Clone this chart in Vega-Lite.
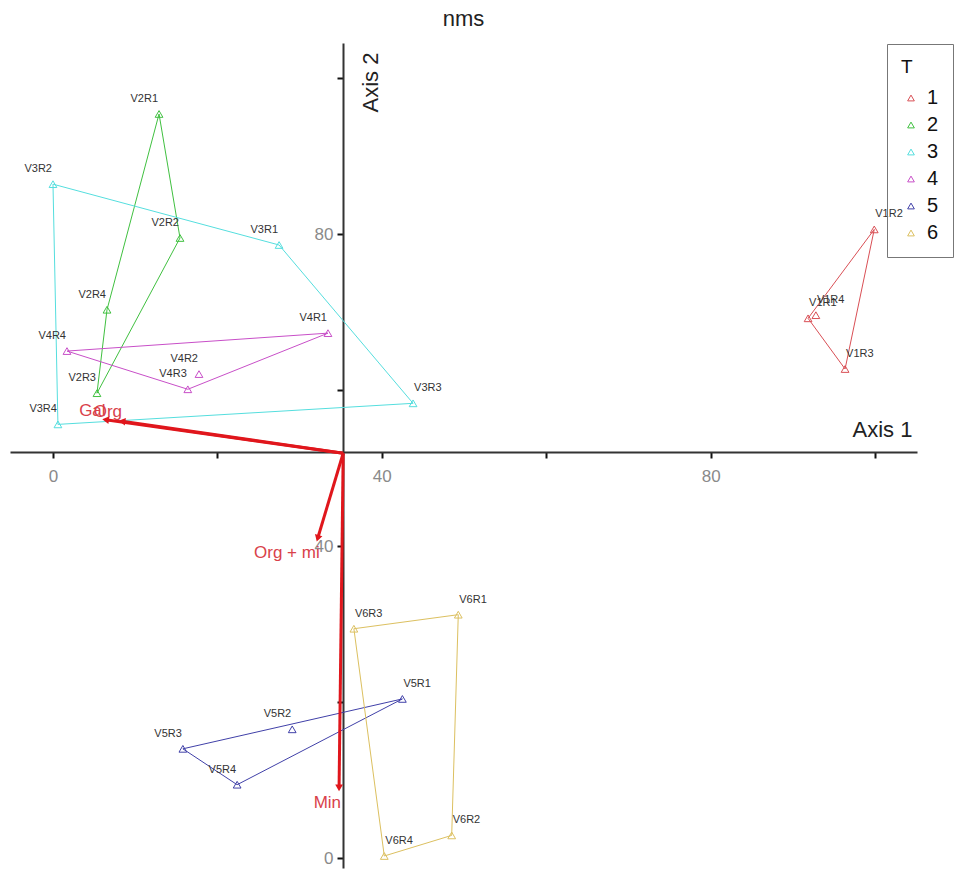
{
  "$schema": "https://vega.github.io/schema/vega-lite/v6.json",
  "width": 907,
  "height": 825,
  "autosize": {"type": "none"},
  "padding": {"left": 10, "top": 43, "right": 53, "bottom": 2},
  "background": "white",
  "title": {"text": "nms", "fontSize": 22, "fontWeight": "normal", "color": "#222222", "font": "Liberation Sans", "offset": 12, "anchor": "middle"},
  "config": {"view": {"stroke": null}, "font": "Liberation Sans", "axis": {"grid": false}},
  "datasets": {
    "pts": [
      {"id": "V1R1", "T": "1", "x": 91.85, "y": 69.2, "hull": 2},
      {"id": "V1R2", "T": "1", "x": 99.9, "y": 80.6, "hull": 0},
      {"id": "V1R3", "T": "1", "x": 96.35, "y": 62.7, "hull": 1},
      {"id": "V1R4", "T": "1", "x": 92.8, "y": 69.6, "hull": null},
      {"id": "V2R1", "T": "2", "x": 12.9, "y": 95.4, "hull": 0},
      {"id": "V2R2", "T": "2", "x": 15.45, "y": 79.5, "hull": 1},
      {"id": "V2R3", "T": "2", "x": 5.35, "y": 59.6, "hull": 2},
      {"id": "V2R4", "T": "2", "x": 6.57, "y": 70.3, "hull": 3},
      {"id": "V3R1", "T": "3", "x": 27.5, "y": 78.6, "hull": 1},
      {"id": "V3R2", "T": "3", "x": 0.0, "y": 86.4, "hull": 0},
      {"id": "V3R3", "T": "3", "x": 43.8, "y": 58.3, "hull": 2},
      {"id": "V3R4", "T": "3", "x": 0.6, "y": 55.6, "hull": 3},
      {"id": "V4R1", "T": "4", "x": 33.45, "y": 67.3, "hull": 0},
      {"id": "V4R2", "T": "4", "x": 17.76, "y": 62.05, "hull": null},
      {"id": "V4R3", "T": "4", "x": 16.4, "y": 60.1, "hull": 1},
      {"id": "V4R4", "T": "4", "x": 1.7, "y": 65.0, "hull": 2},
      {"id": "V5R1", "T": "5", "x": 42.5, "y": 20.4, "hull": 0},
      {"id": "V5R2", "T": "5", "x": 29.1, "y": 16.5, "hull": null},
      {"id": "V5R3", "T": "5", "x": 15.8, "y": 14.0, "hull": 2},
      {"id": "V5R4", "T": "5", "x": 22.4, "y": 9.4, "hull": 1},
      {"id": "V6R1", "T": "6", "x": 49.3, "y": 31.2, "hull": 1},
      {"id": "V6R2", "T": "6", "x": 48.5, "y": 2.9, "hull": 2},
      {"id": "V6R3", "T": "6", "x": 36.6, "y": 29.4, "hull": 0},
      {"id": "V6R4", "T": "6", "x": 40.3, "y": 0.26, "hull": 3}
    ],
    "vec": [
      {"name": "Gal", "x0": 35.3, "y0": 51.9, "x": 6.4, "y": 56.2, "side": "up"},
      {"name": "Org", "x0": 35.3, "y0": 51.9, "x": 8.4, "y": 56.0, "side": "up"},
      {"name": "Org + mi", "x0": 35.3, "y0": 51.9, "x": 32.2, "y": 41.0, "side": "down"},
      {"name": "Min", "x0": 35.3, "y0": 51.9, "x": 34.8, "y": 9.0, "side": "down"}
    ]
  },
  "encoding": {
    "x": {
      "field": "x", "type": "quantitative",
      "scale": {"domain": [-5.23, 105.1], "nice": false, "zero": false},
      "axis": {
        "offset": -416, "values": [0, 20, 40, 60, 80, 100],
        "labelExpr": "datum.value % 40 === 0 ? datum.label : ''",
        "domainColor": "#333333", "domainWidth": 2, "tickColor": "#111111", "tickWidth": 2, "tickSize": 6,
        "labelColor": "#8a8a8a", "labelFontSize": 17, "labelPadding": 10, "labelFont": "Liberation Sans",
        "title": "Axis 1", "titleX": 872, "titleY": -23, "titleAlign": "center", "titleBaseline": "middle",
        "titleFontSize": 22, "titleFontWeight": "normal", "titleColor": "#222222", "titleFont": "Liberation Sans"
      }
    },
    "y": {
      "field": "y", "type": "quantitative",
      "scale": {"domain": [-1.28, 104.5], "nice": false, "zero": false},
      "axis": {
        "offset": -333, "values": [0, 20, 40, 60, 80, 100],
        "labelExpr": "datum.value % 40 === 0 ? datum.label : ''",
        "domainColor": "#333333", "domainWidth": 2, "tickColor": "#111111", "tickWidth": 2, "tickSize": 6,
        "labelColor": "#8a8a8a", "labelFontSize": 17, "labelPadding": 4, "labelFont": "Liberation Sans",
        "title": "Axis 2", "titleX": 27, "titleY": 39, "titleAngle": -90, "titleAlign": "center", "titleBaseline": "middle",
        "titleFontSize": 22, "titleFontWeight": "normal", "titleColor": "#222222", "titleFont": "Liberation Sans"
      }
    },
    "color": {
      "field": "T", "type": "nominal",
      "scale": {"domain": ["1", "2", "3", "4", "5", "6"], "range": ["#d94f55", "#40c040", "#55dede", "#c84fc8", "#4040a8", "#dcc060"]},
      "legend": {
        "orient": "none", "legendX": 877, "legendY": 1, "title": "T",
        "titleFontSize": 19, "titleFontWeight": "normal", "titleColor": "#111111", "titlePadding": 11, "titleFont": "Liberation Sans",
        "labelFontSize": 20, "labelColor": "#111111", "labelFont": "Liberation Sans",
        "symbolType": "triangle-up", "symbolSize": 45, "symbolStrokeWidth": 1, "symbolFillColor": "transparent",
        "rowPadding": 7, "labelOffset": 6, "padding": 14,
        "strokeColor": "#777777", "fillColor": "transparent"
      }
    }
  },
  "layer": [
    {
      "data": {"name": "pts"},
      "transform": [{"filter": "isValid(datum.hull)"}],
      "mark": {"type": "line", "interpolate": "linear-closed", "strokeWidth": 1},
      "encoding": {
        "order": {"field": "hull"}
      }
    },
    {
      "data": {"name": "pts"},
      "mark": {"type": "point", "shape": "triangle-up", "filled": false, "size": 60, "strokeWidth": 1, "opacity": 1}
    },
    {
      "data": {"name": "pts"},
      "transform": [{"filter": "datum.x < 35.3"}],
      "mark": {"type": "text", "align": "right", "baseline": "middle", "dx": -1, "dy": -15, "fontSize": 11, "font": "Liberation Sans"},
      "encoding": {"text": {"field": "id"}, "color": {"value": "#333333"}}
    },
    {
      "data": {"name": "pts"},
      "transform": [{"filter": "datum.x >= 35.3"}],
      "mark": {"type": "text", "align": "left", "baseline": "middle", "dx": 1, "dy": -15, "fontSize": 11, "font": "Liberation Sans"},
      "encoding": {"text": {"field": "id"}, "color": {"value": "#333333"}}
    },
    {
      "data": {"name": "vec"},
      "mark": {"type": "rule", "strokeWidth": 3},
      "encoding": {
        "x2": {"field": "x0"},
        "y2": {"field": "y0"},
        "color": {"value": "#e0161c"}
      }
    },
    {
      "data": {"name": "vec"},
      "transform": [{"calculate": "atan2((datum.x - datum.x0) * 8.22, (datum.y - datum.y0) * 7.8) * 180 / PI", "as": "ang"}],
      "mark": {"type": "point", "shape": "triangle-up", "filled": true, "size": 60, "opacity": 1},
      "encoding": {
        "angle": {"field": "ang", "type": "quantitative", "scale": null},
        "color": {"value": "#e0161c"}
      }
    },
    {
      "data": {"name": "vec"},
      "transform": [{"filter": "datum.side === 'down'"}],
      "mark": {"type": "text", "align": "right", "baseline": "middle", "dx": 2, "dy": 15, "fontSize": 17, "font": "Liberation Sans"},
      "encoding": {"text": {"field": "name"}, "color": {"value": "#d9414a"}}
    },
    {
      "data": {"name": "vec"},
      "transform": [{"filter": "datum.side === 'up'"}],
      "mark": {"type": "text", "align": "right", "baseline": "middle", "dx": 0, "dy": -9, "fontSize": 17, "font": "Liberation Sans"},
      "encoding": {"text": {"field": "name"}, "color": {"value": "#d9414a"}}
    }
  ]
}
